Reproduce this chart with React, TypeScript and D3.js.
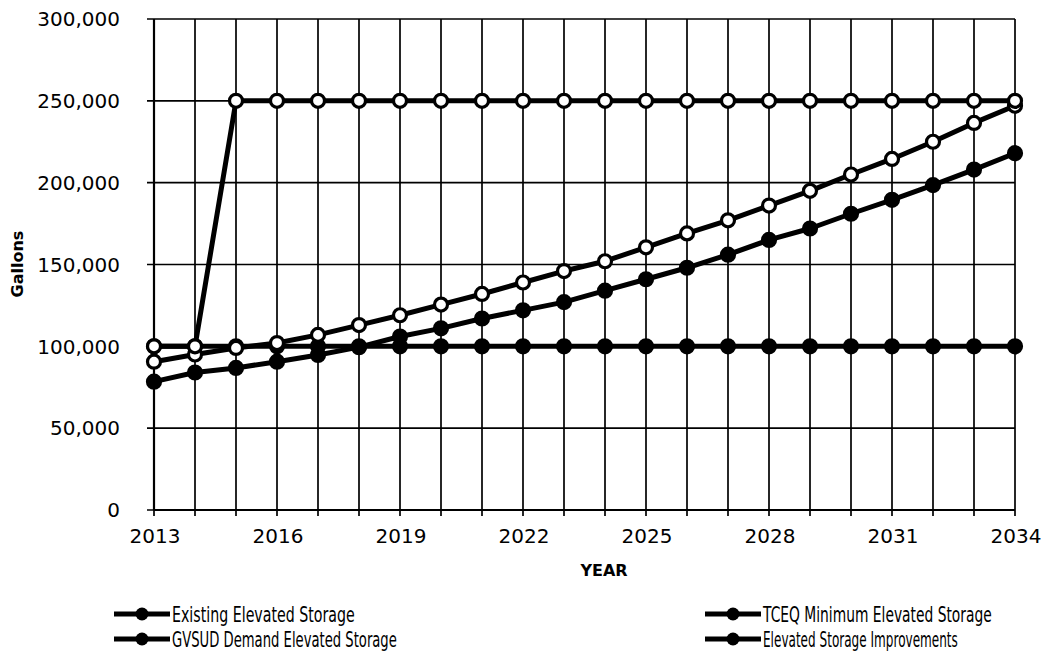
import React, { useLayoutEffect, useRef, useState } from "react";
import * as d3 from "d3";

// Elevated storage capacity vs. demand, gallons per year
const years = [
  2013, 2014, 2015, 2016, 2017, 2018, 2019, 2020, 2021, 2022, 2023,
  2024, 2025, 2026, 2027, 2028, 2029, 2030, 2031, 2032, 2033, 2034,
];

const existingStorage = [
  100000, 100000, 100000, 100000, 100000, 100000, 100000, 100000, 100000, 100000, 100000,
  100000, 100000, 100000, 100000, 100000, 100000, 100000, 100000, 100000, 100000, 100000,
];

const tceqMinimum = [
  78400, 84000, 86800, 90600, 94700, 99500, 106000, 111000, 117000, 122000, 127000,
  134000, 141000, 148000, 156000, 165000, 172000, 181000, 189500, 198500, 208000, 218000,
];

const gvsudDemand = [
  90600, 95000, 99000, 102000, 107000, 113000, 119000, 125500, 132000, 139000, 146000,
  152000, 160500, 169000, 177000, 186000, 195000, 205000, 214500, 225000, 236500, 247000,
];

const storageImprovements = [
  100000, 100000, 250000, 250000, 250000, 250000, 250000, 250000, 250000, 250000, 250000,
  250000, 250000, 250000, 250000, 250000, 250000, 250000, 250000, 250000, 250000, 250000,
];

const yTicks = [0, 50000, 100000, 150000, 200000, 250000, 300000];
const xTickLabels = [2013, 2016, 2019, 2022, 2025, 2028, 2031, 2034];

const seriesNames = [
  "Existing Elevated Storage",
  "TCEQ Minimum Elevated Storage",
  "GVSUD Demand Elevated Storage",
  "Elevated Storage Improvements",
];

type Series = { name: string; values: number[]; fill: string };

const series: Series[] = [
  { name: seriesNames[0], values: existingStorage, fill: "#000" },
  { name: seriesNames[1], values: tceqMinimum, fill: "#000" },
  { name: seriesNames[2], values: gvsudDemand, fill: "#fff" },
  { name: seriesNames[3], values: storageImprovements, fill: "#fff" },
];

const W = 1051;
const H = 656;
const plot = { left: 154, right: 1015, top: 19, bottom: 510 };

const tickFont = "'DejaVu Sans', Verdana, sans-serif";
const legendFont = "'DejaVu Sans', Tahoma, sans-serif";

// legend layout: text start, row baseline, target text width
const legendItems = [
  { name: seriesNames[0], x: 172, y: 622, len: 183 },
  { name: seriesNames[1], x: 763, y: 622, len: 229 },
  { name: seriesNames[2], x: 172, y: 647, len: 225 },
  { name: seriesNames[3], x: 763, y: 647, len: 195 },
];

// A legend label squeezed horizontally to a fixed width (narrow face)
function NarrowText({ x, y, len, children }: { x: number; y: number; len: number; children: string }) {
  const ref = useRef<SVGTextElement>(null);
  const [sx, setSx] = useState(0.62);
  useLayoutEffect(() => {
    if (ref.current) {
      const natural = ref.current.getComputedTextLength();
      if (natural > 0) setSx(len / natural);
    }
  }, [len, children]);
  return (
    <text
      ref={ref}
      transform={`translate(${x},${y}) scale(${sx},1)`}
      fontFamily={legendFont}
      fontSize={21}
      fill="#000"
    >
      {children}
    </text>
  );
}

export default function App() {
  const x = d3.scaleLinear().domain([2013, 2034]).range([plot.left, plot.right]);
  const y = d3.scaleLinear().domain([0, 300000]).range([plot.bottom, plot.top]);

  const line = d3
    .line<number>()
    .x((_, i) => x(years[i]))
    .y((v) => y(v));

  return (
    <svg
      width={W}
      height={H}
      style={{ position: "absolute", left: 0, top: 0, background: "#fff" }}
    >
      <rect x={0} y={0} width={W} height={H} fill="#fff" />

      {/* grid */}
      <g stroke="#000" strokeWidth={1.7}>
        {years.map((yr) => (
          <line key={"v" + yr} x1={x(yr)} x2={x(yr)} y1={plot.top} y2={plot.bottom + 6} />
        ))}
        {yTicks.map((t) => (
          <line key={"h" + t} x1={plot.left - 7} x2={plot.right} y1={y(t)} y2={y(t)} />
        ))}
        <line x1={plot.left} x2={plot.left} y1={plot.top} y2={plot.bottom} strokeWidth={2.2} />
        <line x1={plot.left} x2={plot.right} y1={plot.bottom} y2={plot.bottom} strokeWidth={2.2} />
      </g>

      {/* y axis labels */}
      <g fontFamily={tickFont} fontSize={20} fill="#000" textAnchor="end">
        {yTicks.map((t) => (
          <text key={"yl" + t} x={120} y={y(t)} dy="0.36em">
            {d3.format(",")(t)}
          </text>
        ))}
      </g>

      {/* x axis labels */}
      <g fontFamily={tickFont} fontSize={20} fill="#000" textAnchor="middle">
        {xTickLabels.map((t) => (
          <text key={"xl" + t} x={x(t) + 1} y={543}>
            {t}
          </text>
        ))}
      </g>

      <text
        x={604}
        y={576}
        textAnchor="middle"
        fontFamily={tickFont}
        fontWeight="bold"
        fontSize={16}
      >
        YEAR
      </text>
      <text
        transform="translate(23,264) rotate(-90)"
        textAnchor="middle"
        fontFamily={tickFont}
        fontWeight="bold"
        fontSize={16}
      >
        Gallons
      </text>

      {/* series */}
      {series.map((s) => (
        <g key={s.name}>
          <path d={line(s.values) || ""} fill="none" stroke="#000" strokeWidth={5} strokeLinejoin="round" />
          {s.values.map((v, i) => (
            <circle
              key={i}
              cx={x(years[i])}
              cy={y(v)}
              r={6.5}
              fill={s.fill}
              stroke="#000"
              strokeWidth={3.2}
            />
          ))}
        </g>
      ))}

      {/* legend */}
      {legendItems.map((item) => (
        <g key={item.name}>
          <line
            x1={item.x - 58}
            x2={item.x - 2}
            y1={item.y - 8}
            y2={item.y - 8}
            stroke="#000"
            strokeWidth={5}
          />
          <circle cx={item.x - 30} cy={item.y - 8} r={6.5} fill="#000" />
          <NarrowText x={item.x} y={item.y} len={item.len}>
            {item.name}
          </NarrowText>
        </g>
      ))}
    </svg>
  );
}
